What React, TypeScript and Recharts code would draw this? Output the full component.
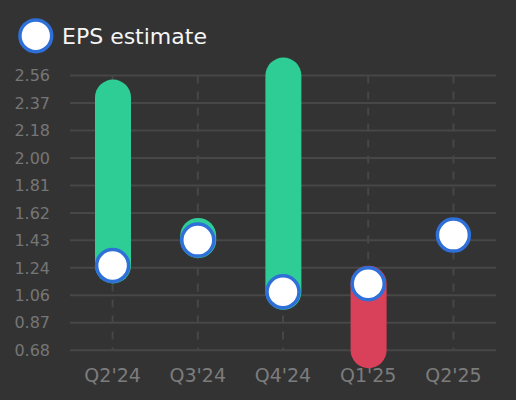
import React from "react";
import {
  ComposedChart,
  Bar,
  Line,
  XAxis,
  YAxis,
  CartesianGrid,
} from "recharts";

const quarters = ["Q2'24", "Q3'24", "Q4'24", "Q1'25", "Q2'25"];
const epsEstimate = [1.26, 1.434, 1.08, 1.135, 1.468];
const epsActual: (number | null)[] = [2.41, 1.462, 2.56, 0.68, null];
const yTicks = [0.68, 0.868, 1.056, 1.244, 1.432, 1.62, 1.808, 1.996, 2.184, 2.372, 2.56];

const GREEN = "#2ecd96";
const RED = "#d9405a";
const BLUE = "#2e6fd8";
const BG = "#333333";
const GRID = "#474747";
const FONT = "'DejaVu Sans', sans-serif";

const data = quarters.map((q, i) => ({
  quarter: q,
  estimate: epsEstimate[i],
  actual: epsActual[i],
  range:
    epsActual[i] == null
      ? null
      : [Math.min(epsActual[i] as number, epsEstimate[i]), Math.max(epsActual[i] as number, epsEstimate[i])],
}));

const CapsuleShape = (props: any) => {
  const { x, y, width, height, payload } = props;
  if (payload == null || payload.actual == null || x == null || y == null) return null;
  const top = Math.min(y, y + height);
  const h = Math.abs(height);
  const r = width / 2;
  const color = payload.actual >= payload.estimate ? GREEN : RED;
  return <rect x={x} y={top - r} width={width} height={h + width} rx={r} ry={r} fill={color} />;
};

const EstimateDot = (props: any) => {
  const { cx, cy } = props;
  if (cx == null || cy == null) return null;
  return <circle cx={cx} cy={cy} r={16} fill="#ffffff" stroke={BLUE} strokeWidth={3.5} />;
};

export default function App() {
  return (
    <div
      style={{
        position: "absolute",
        left: 0,
        top: 0,
        width: 516,
        height: 400,
        background: BG,
        fontFamily: FONT,
        overflow: "hidden",
      }}
    >
      <svg width={516} height={70} style={{ position: "absolute", left: 0, top: 0 }}>
        <circle cx={35.8} cy={35.8} r={15.9} fill="#ffffff" stroke={BLUE} strokeWidth={3.5} />
        <text x={62} y={44.3} fill="#f5f5f5" fontSize={22} fontFamily={FONT}>
          EPS estimate
        </text>
      </svg>
      <ComposedChart
        width={516}
        height={400}
        data={data}
        margin={{ top: 75.6, right: 20, bottom: 10, left: 0 }}
        style={{ position: "absolute", left: 0, top: 0 }}
      >
        <CartesianGrid horizontal={true} vertical={false} stroke={GRID} strokeWidth={2} />
        <CartesianGrid
          horizontal={false}
          vertical={true}
          syncWithTicks={true}
          stroke={GRID}
          strokeWidth={2}
          strokeDasharray="8 8"
        />
        <XAxis
          dataKey="quarter"
          axisLine={false}
          tickLine={false}
          height={39.8}
          tickMargin={12}
          tick={{ fill: "#7c7c7c", fontSize: 19, fontFamily: FONT }}
          interval={0}
        />
        <YAxis
          type="number"
          domain={[0.68, 2.56]}
          ticks={yTicks}
          width={70}
          axisLine={false}
          tickLine={false}
          tickMargin={14}
          tickFormatter={(v: number) => v.toFixed(2)}
          tick={{ fill: "#767676", fontSize: 16, fontFamily: FONT }}
          interval={0}
        />
        <Bar dataKey="range" barSize={36} shape={<CapsuleShape />} isAnimationActive={false} />
        <Line
          dataKey="estimate"
          stroke="none"
          dot={<EstimateDot />}
          activeDot={false}
          isAnimationActive={false}
        />
      </ComposedChart>
    </div>
  );
}
